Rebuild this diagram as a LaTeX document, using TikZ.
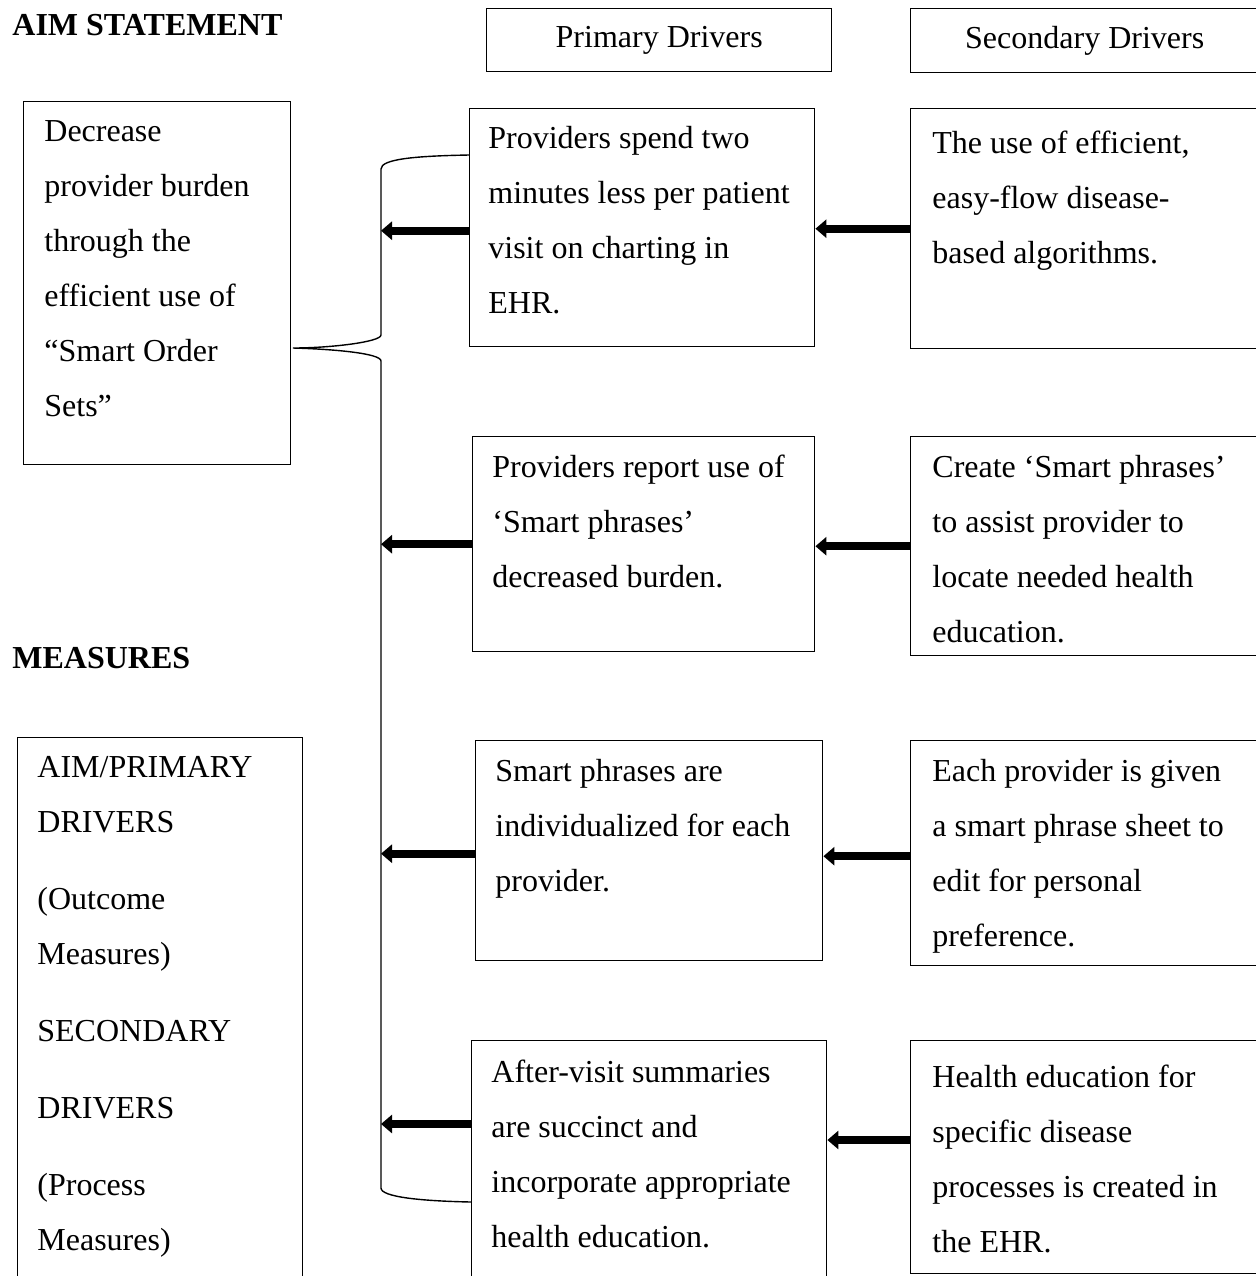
\documentclass[tikz,border=0pt]{standalone}
\usepackage{fontspec}
\setmainfont{Liberation Serif}
\usetikzlibrary{arrows.meta}
\newcommand{\drvfont}{\fontsize{16pt}{27.5pt}\selectfont}

\begin{document}
\begin{tikzpicture}[x=0.5pt, y=-0.5pt,
    drvbox/.style = {draw=black, line width=0.7pt, anchor=north west, inner sep=0pt},
    drvtext/.style = {anchor=base west, inner sep=0pt, align=left, text width=175pt, font=\drvfont,
                      execute at begin node={\spaceskip=0.25em\xspaceskip=0.25em\relax}},
    headbox/.style = {drvbox, font=\drvfont},
    bigarrow/.style = {line width=4pt, -{Triangle[length=5.5pt, width=9pt]}},
    brace/.style = {line width=0.7pt}]
     \clip (0,0) rectangle (1256,1276);

     % headings
     \node[anchor=base west, inner sep=0pt, font=\drvfont\bfseries] (aimhead) at (12,35) {AIM STATEMENT};
     \node[anchor=base west, inner sep=0pt, font=\drvfont\bfseries] (meashead) at (12,668) {MEASURES};
     \node[headbox, minimum width=172.5pt, minimum height=31.5pt] (hprim) at (486,8) {Primary Drivers};
     \node[headbox, minimum width=174pt, minimum height=32pt] (hsec) at (910,8) {Secondary Drivers};

     % boxes
     \node[drvbox, minimum width=133.5pt, minimum height=181.5pt] (aim) at (23,101) {};
     \node[drvbox, minimum width=142.5pt, minimum height=290pt] (meas) at (17,737) {};
     \node[drvbox, minimum width=172.5pt, minimum height=119pt] (p1) at (469,108) {};
     \node[drvbox, minimum width=171pt, minimum height=107.5pt] (p2) at (472,436) {};
     \node[drvbox, minimum width=173.5pt, minimum height=110pt] (p3) at (475,740) {};
     \node[drvbox, minimum width=177.5pt, minimum height=130pt] (p4) at (471,1040) {};
     \node[drvbox, minimum width=174pt, minimum height=120pt] (s1) at (910,108) {};
     \node[drvbox, minimum width=174pt, minimum height=109.5pt] (s2) at (910,436) {};
     \node[drvbox, minimum width=174pt, minimum height=112.5pt] (s3) at (910,740) {};
     \node[drvbox, minimum width=174pt, minimum height=116.5pt] (s4) at (910,1040) {};

     % texts
     \node[drvtext] (aimtxt) at (44,141) {Decrease\\provider burden\\through the\\efficient use of\\“Smart Order\\Sets”};
     \node[drvtext] (meastxt) at (37,777) {AIM/PRIMARY\\DRIVERS\\[11pt](Outcome\\Measures)\\[11pt]SECONDARY\\[11pt]DRIVERS\\[11pt](Process\\Measures)};
     \node[drvtext] (p1txt) at (488,148) {Providers spend two\\minutes less per patient\\visit on charting in\\EHR.};
     \node[drvtext] (p2txt) at (492,477) {Providers report use of\\‘Smart phrases’\\decreased burden.};
     \node[drvtext] (p3txt) at (495,781) {Smart phrases are\\individualized for each\\provider.};
     \node[drvtext] (p4txt) at (491,1082) {After-visit summaries\\are succinct and\\incorporate appropriate\\health education.};
     \node[drvtext] (s1txt) at (932,153) {The use of efficient,\\easy-flow disease-\\based algorithms.};
     \node[drvtext] (s2txt) at (932,477) {Create ‘Smart phrases’\\to assist provider to\\locate needed health\\education.};
     \node[drvtext] (s3txt) at (932,781) {Each provider is given\\a smart phrase sheet to\\edit for personal\\preference.};
     \node[drvtext] (s4txt) at (932,1087) {Health education for\\specific disease\\processes is created in\\the EHR.};

     % brace
     \coordinate (brc) at (381,0);
     \coordinate (bracetop) at ([yshift=-23.5pt]p1.north west);
     \coordinate (cusp) at (293,348);
     \coordinate (bracebot) at ([yshift=-81pt]p4.north west);
     \draw[brace] (bracetop) .. controls +(-54,1) and +(0,-10) .. ([yshift=-7pt]bracetop -| brc)
          -- ([yshift=6.5pt]cusp -| brc) .. controls +(0,7) and +(37,0) .. (cusp)
          .. controls +(37,1) and +(0,-8) .. ([yshift=-6.5pt]cusp -| brc)
          -- ([yshift=7pt]bracebot -| brc) .. controls +(0,9) and +(-50,-1) .. (bracebot);

     % arrows
     \draw[bigarrow] ([yshift=-1.5pt]p1.west) -- ([yshift=-1.5pt]p1.west -| brc);
     \draw[bigarrow] (p2.west) -- (p2.west -| brc);
     \draw[bigarrow] ([yshift=-1.5pt]p3.west) -- ([yshift=-1.5pt]p3.west -| brc);
     \draw[bigarrow] ([yshift=-42pt]p4.north west) -- ([yshift=-42pt]p4.north west -| brc);
     \draw[bigarrow] (s1.west) -- (s1.west -| p1.east);
     \draw[bigarrow] (s2.west) -- (s2.west -| p2.east);
     \draw[bigarrow] ([yshift=-1.5pt]s3.west) -- ([yshift=-1.5pt]s3.west -| p3.east);
     \draw[bigarrow] ([yshift=-50pt]s4.north west) -- ([yshift=-50pt]s4.north west -| p4.east);
\end{tikzpicture}
\end{document}
